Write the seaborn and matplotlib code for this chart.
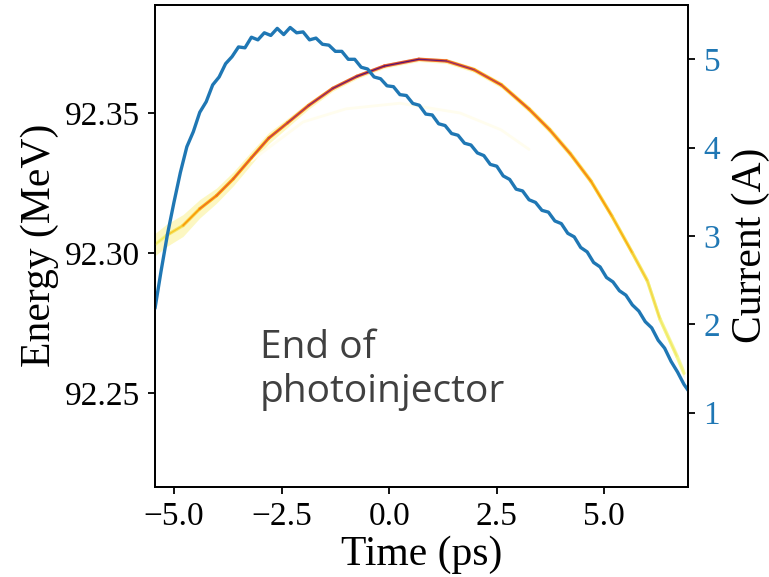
import numpy as np
import seaborn as sns
import matplotlib
matplotlib.use("Agg")
import matplotlib.pyplot as plt
from matplotlib.collections import LineCollection
from matplotlib.ticker import FixedLocator, FormatStrFormatter, MultipleLocator

# beam current along the bunch (blue curve, right axis)
time_ps = [-5.44, -5.30, -5.15, -5.00, -4.85, -4.70, -4.55, -4.40, -4.25, -4.10,
           -3.95, -3.80, -3.65, -3.50, -3.35, -3.20, -3.05, -2.90, -2.75, -2.60,
           -2.45, -2.30, -2.15, -2.00, -1.85, -1.70, -1.55, -1.40, -1.25, -1.10,
           -0.95, -0.80, -0.65, -0.50, -0.35, -0.20, -0.05, 0.10, 0.25, 0.40,
           0.55, 0.70, 0.85, 1.00, 1.15, 1.30, 1.45, 1.60, 1.75, 1.90,
           2.05, 2.20, 2.35, 2.50, 2.65, 2.80, 2.95, 3.10, 3.25, 3.40,
           3.55, 3.70, 3.85, 4.00, 4.15, 4.30, 4.45, 4.60, 4.75, 4.90,
           5.05, 5.20, 5.35, 5.50, 5.65, 5.80, 5.95, 6.10, 6.25, 6.40,
           6.55, 6.70, 6.85, 6.95]
current_A = [2.18, 2.60, 3.02, 3.38, 3.72, 4.01, 4.18, 4.40, 4.52, 4.71,
             4.80, 4.95, 5.03, 5.14, 5.13, 5.25, 5.22, 5.30, 5.27, 5.35,
             5.28, 5.36, 5.30, 5.31, 5.22, 5.24, 5.17, 5.16, 5.09, 5.09,
             5.00, 5.00, 4.91, 4.89, 4.80, 4.78, 4.70, 4.69, 4.60, 4.59,
             4.50, 4.48, 4.38, 4.37, 4.27, 4.25, 4.16, 4.14, 4.05, 4.03,
             3.94, 3.91, 3.81, 3.79, 3.68, 3.64, 3.53, 3.51, 3.41, 3.38,
             3.29, 3.27, 3.17, 3.14, 3.03, 2.99, 2.87, 2.82, 2.70, 2.65,
             2.53, 2.48, 2.38, 2.33, 2.22, 2.15, 2.03, 1.96, 1.82, 1.73,
             1.58, 1.46, 1.32, 1.25]

# longitudinal phase space: centre of the energy band, its half width, density
band_t = [-5.44, -5.17, -4.79, -4.40, -4.01, -3.62, -3.20, -2.80, -2.36, -1.87,
          -1.31, -0.75, -0.11, 0.69, 1.33, 1.97, 2.61, 3.25, 3.73, 4.21,
          4.69, 5.17, 5.65, 6.00, 6.29, 6.69, 6.85]
band_E = [92.3030, 92.3063, 92.3098, 92.3158, 92.3205, 92.3265, 92.3340, 92.3410,
          92.3465, 92.3527, 92.3588, 92.3631, 92.3668, 92.3692, 92.3686, 92.3655,
          92.3600, 92.3514, 92.3440, 92.3354, 92.3256, 92.3133, 92.3000, 92.2900,
          92.2764, 92.2629, 92.2570]
band_hw = [0.0040, 0.0040, 0.0039, 0.0033, 0.0027, 0.0025, 0.0023, 0.0020, 0.0016,
           0.0013, 0.0010, 0.0009, 0.0008, 0.0008, 0.0009, 0.0010, 0.0011, 0.0012,
           0.0013, 0.0013, 0.0013, 0.0013, 0.0013, 0.0014, 0.0015, 0.0017, 0.0017]
band_density = [0.03, 0.08, 0.15, 0.25, 0.30, 0.33, 0.36, 0.40, 0.45, 0.50,
                0.55, 0.60, 0.62, 0.62, 0.55, 0.45, 0.38, 0.32, 0.28, 0.25,
                0.22, 0.18, 0.14, 0.10, 0.07, 0.04, 0.02]

# faint halo arc under the main band
halo_t = [-3.2, -2.0, -1.0, 0.25, 1.65, 2.6, 3.25]
halo_E = [92.333, 92.3468, 92.3515, 92.3535, 92.350, 92.344, 92.337]

sns.set_theme(style="ticks")
plt.rcParams["font.family"] = ["Liberation Serif", "DejaVu Serif"]
plt.rcParams["axes.edgecolor"] = "black"
plt.rcParams["axes.linewidth"] = 1.3
plt.rcParams["text.color"] = "black"
plt.rcParams["axes.labelcolor"] = "black"
plt.rcParams["xtick.color"] = "black"
plt.rcParams["ytick.color"] = "black"

fig = plt.figure(figsize=(7.69, 5.77), dpi=100)
ax = fig.add_axes([155 / 769, 1 - 486.7 / 577, 533.3 / 769, 482 / 577])

bt = np.array(band_t)
bE = np.array(band_E)
bw = np.array(band_hw)
ax.fill_between(bt, bE - bw, bE + bw, color="#fbf5a8", alpha=0.7, lw=0)
ax.plot(halo_t, halo_E, color="#fffdee", lw=2, zorder=1)

pts = np.column_stack([bt, bE]).reshape(-1, 1, 2)
segs = np.concatenate([pts[:-1], pts[1:]], axis=1)
dens = np.array(band_density)
seg_d = (dens[:-1] + dens[1:]) / 2
outer = LineCollection(segs, cmap="inferno_r", norm=plt.Normalize(0, 1),
                       linewidths=2.4, capstyle="round", zorder=2)
outer.set_array(seg_d * 0.6)
ax.add_collection(outer)
inner = LineCollection(segs, cmap="inferno_r", norm=plt.Normalize(0, 1),
                       linewidths=0.9, capstyle="round", zorder=3)
inner.set_array(seg_d * 1.2)
ax.add_collection(inner)

ax.set_xlim(-5.44, 6.95)
ax.set_ylim(92.2165, 92.3887)
ax.yaxis.set_major_locator(FixedLocator([92.25, 92.30, 92.35]))
ax.yaxis.set_major_formatter(FormatStrFormatter("%.2f"))
ax.xaxis.set_major_locator(MultipleLocator(2.5))
ax.tick_params(labelsize=24, length=5, width=1.3, pad=6, color="black")
ax.set_xlabel("Time (ps)", fontsize=30, labelpad=2)
ax.set_ylabel("Energy (MeV)", fontsize=30, labelpad=4)

ax.text(-3.0, 92.2469, "End of\nphotoinjector", fontsize=28, color="#404040",
        family=["Open Sans", "DejaVu Sans"], ha="left", va="baseline",
        linespacing=1.2)

ax2 = ax.twinx()
sns.lineplot(x=time_ps, y=current_A, ax=ax2, color="#1f77b4", lw=2.4,
             estimator=None, sort=False)
ax2.set_ylim(0.162, 5.618)
ax2.set_yticks([1, 2, 3, 4, 5])
ax2.tick_params(labelsize=24, length=5, width=1.3, pad=6, labelcolor="#1f77b4",
                color="black")
ax2.set_ylabel("Current (A)", fontsize=30, labelpad=8)
for sp in ax2.spines.values():
    sp.set_linewidth(1.3)
    sp.set_color("black")

fig.savefig("out.png", dpi=100)
